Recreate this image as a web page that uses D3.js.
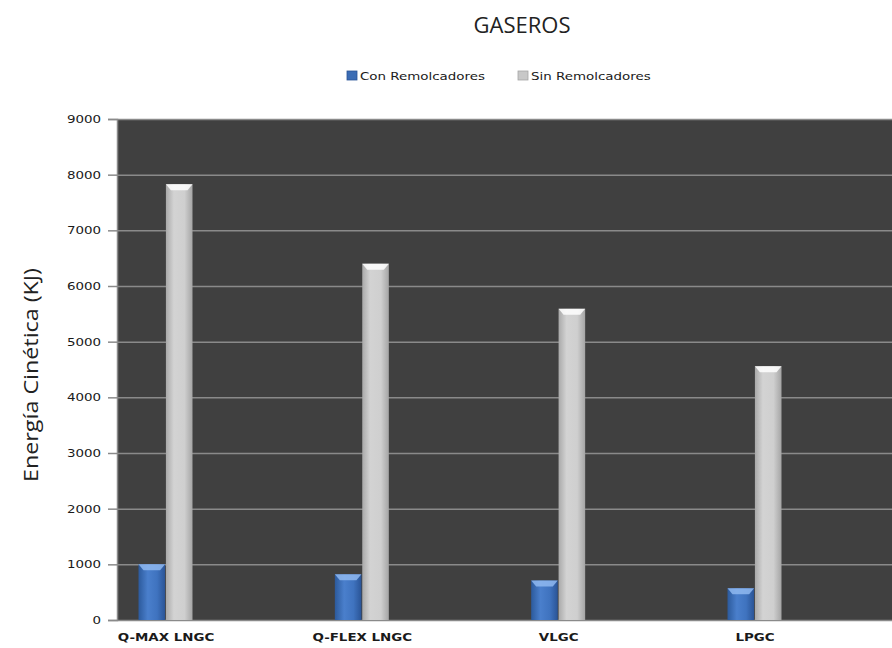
<!DOCTYPE html>
<html>
<head>
<meta charset="utf-8">
<script src="https://cdn.jsdelivr.net/npm/d3@7/dist/d3.min.js"></script>
<style>
  body { margin: 0; background: #fff; }
  svg { display: block; }
</style>
</head>
<body>
<svg id="chart" width="892" height="648"></svg>
<script>
// Chart data
const categories = ["Q-MAX LNGC", "Q-FLEX LNGC", "VLGC", "LPGC"];
const seriesNames = ["Con Remolcadores", "Sin Remolcadores"];
const conRemolcadores = [1000, 820, 710, 570];
const sinRemolcadores = [7830, 6400, 5590, 4560];
const yTicks = [0, 1000, 2000, 3000, 4000, 5000, 6000, 7000, 8000, 9000];

const seriesValues = [conRemolcadores, sinRemolcadores];
const rows = categories.map((c, i) => ({
  cat: c,
  vals: seriesNames.map((s, j) => ({ series: s, idx: j, value: seriesValues[j][i] }))
}));

const svg = d3.select("#chart");
const plot = { left: 117, right: 892, top: 119, bottom: 620 };
const TEXT_FONT = "DejaVu Sans, Verdana, sans-serif";
const WIDE = 1.22; // horizontal stretch for the small labels

const y = d3.scaleLinear().domain([0, 9000]).range([plot.bottom, plot.top]);
const x = d3.scalePoint().domain(categories).range([165.5, 754.5]);
const xs = d3.scaleBand().domain(seriesNames).range([-27, 27]).paddingInner(0.03);

// Gradients for the bars
const defs = svg.append("defs");
function hGrad(id, stops) {
  const g = defs.append("linearGradient").attr("id", id).attr("x1", 0).attr("x2", 1).attr("y1", 0).attr("y2", 0);
  stops.forEach(s => g.append("stop").attr("offset", s[0]).attr("stop-color", s[1]));
}
hGrad("gBlue", [[0, "#2c5a9c"], [0.35, "#4a7fcc"], [0.7, "#3f73bf"], [1, "#2a5496"]]);
hGrad("gGrey", [[0, "#a9a9a9"], [0.3, "#d3d3d3"], [0.7, "#cfcfcf"], [1, "#a5a5a5"]]);
const topColors = ["#8fb8f0", "#ffffff"];
const fills = ["url(#gBlue)", "url(#gGrey)"];
const legendColors = ["#3b6cb4", "#c8c8c8"];

// Plot background
svg.append("rect")
  .attr("x", plot.left).attr("y", plot.top)
  .attr("width", plot.right - plot.left).attr("height", plot.bottom - plot.top)
  .attr("fill", "#404040");

// Gridlines
svg.append("g").selectAll("line")
  .data(yTicks.filter(t => t > 0))
  .join("line")
  .attr("x1", plot.left).attr("x2", plot.right)
  .attr("y1", d => y(d) + 0.5).attr("y2", d => y(d) + 0.5)
  .attr("stroke", "#8a8a8a").attr("stroke-width", 1.5);

// Y axis
const yAxis = d3.axisLeft(y).tickValues(yTicks).tickSize(9).tickPadding(8).tickFormat(d3.format("d"));
const gy = svg.append("g").attr("transform", `translate(${plot.left},0)`).call(yAxis);
gy.select(".domain").attr("stroke", "#8a8a8a").attr("stroke-width", 1.5);
gy.selectAll(".tick line").attr("stroke", "#8a8a8a").attr("stroke-width", 1.5);
gy.selectAll(".tick text")
  .attr("x", 0)
  .attr("transform", `translate(-16,0) scale(${WIDE},1)`)
  .attr("font-family", TEXT_FONT)
  .attr("font-size", 11).attr("fill", "#1a1a1a");

// X axis baseline
svg.append("line")
  .attr("x1", plot.left).attr("x2", plot.right)
  .attr("y1", plot.bottom + 0.5).attr("y2", plot.bottom + 0.5)
  .attr("stroke", "#8a8a8a").attr("stroke-width", 1.5);

// Category labels
const xAxis = d3.axisBottom(x).tickSize(0).tickPadding(13);
const gx = svg.append("g").attr("transform", `translate(0,${plot.bottom})`).call(xAxis);
gx.select(".domain").remove();
gx.selectAll(".tick text")
  .attr("transform", `scale(${WIDE},1)`)
  .attr("font-family", TEXT_FONT)
  .attr("font-size", 11).attr("font-weight", "bold").attr("fill", "#1a1a1a");

// Bars
const groups = svg.append("g").selectAll("g")
  .data(rows).join("g")
  .attr("transform", d => `translate(${x(d.cat)},0)`);

groups.selectAll("rect.bar")
  .data(d => d.vals).join("rect")
  .attr("class", "bar")
  .attr("x", d => xs(d.series))
  .attr("y", d => y(d.value))
  .attr("width", xs.bandwidth())
  .attr("height", d => y(0) - y(d.value))
  .attr("fill", d => fills[d.idx]);

// Bevelled top highlight
groups.selectAll("path.cap")
  .data(d => d.vals).join("path")
  .attr("class", "cap")
  .attr("d", d => {
    const x0 = xs(d.series), w = xs.bandwidth(), t = y(d.value);
    return `M${x0},${t}L${x0 + w},${t}L${x0 + w - 5},${t + 6}L${x0 + 5},${t + 6}Z`;
  })
  .attr("fill", d => topColors[d.idx]).attr("opacity", 0.85);

// Title
svg.append("text")
  .attr("x", 522).attr("y", 33)
  .attr("text-anchor", "middle")
  .attr("font-family", "Open Sans, Noto Sans, sans-serif")
  .attr("font-size", 22).attr("fill", "#222")
  .text("GASEROS");

// Y axis title
svg.append("text")
  .attr("transform", "translate(38,375) rotate(-90)")
  .attr("text-anchor", "middle")
  .attr("font-family", "Open Sans, Noto Sans, sans-serif")
  .attr("font-size", 20).attr("fill", "#222")
  .attr("textLength", 214).attr("lengthAdjust", "spacingAndGlyphs")
  .text("Energía Cinética (KJ)");

// Legend
const legendX = [347, 518];
const legend = svg.append("g").selectAll("g")
  .data(seriesNames).join("g")
  .attr("transform", (d, i) => `translate(${legendX[i]},71)`);
legend.append("rect")
  .attr("x", 0).attr("y", 0).attr("width", 10).attr("height", 9)
  .attr("fill", (d, i) => legendColors[i])
  .attr("stroke", (d, i) => i === 0 ? "#2a5496" : "#a5a5a5").attr("stroke-width", 0.8);
legend.append("text")
  .attr("transform", `translate(13,9) scale(${WIDE},1)`)
  .attr("font-family", TEXT_FONT)
  .attr("font-size", 11).attr("fill", "#1a1a1a")
  .text(d => d);
</script>
</body>
</html>
